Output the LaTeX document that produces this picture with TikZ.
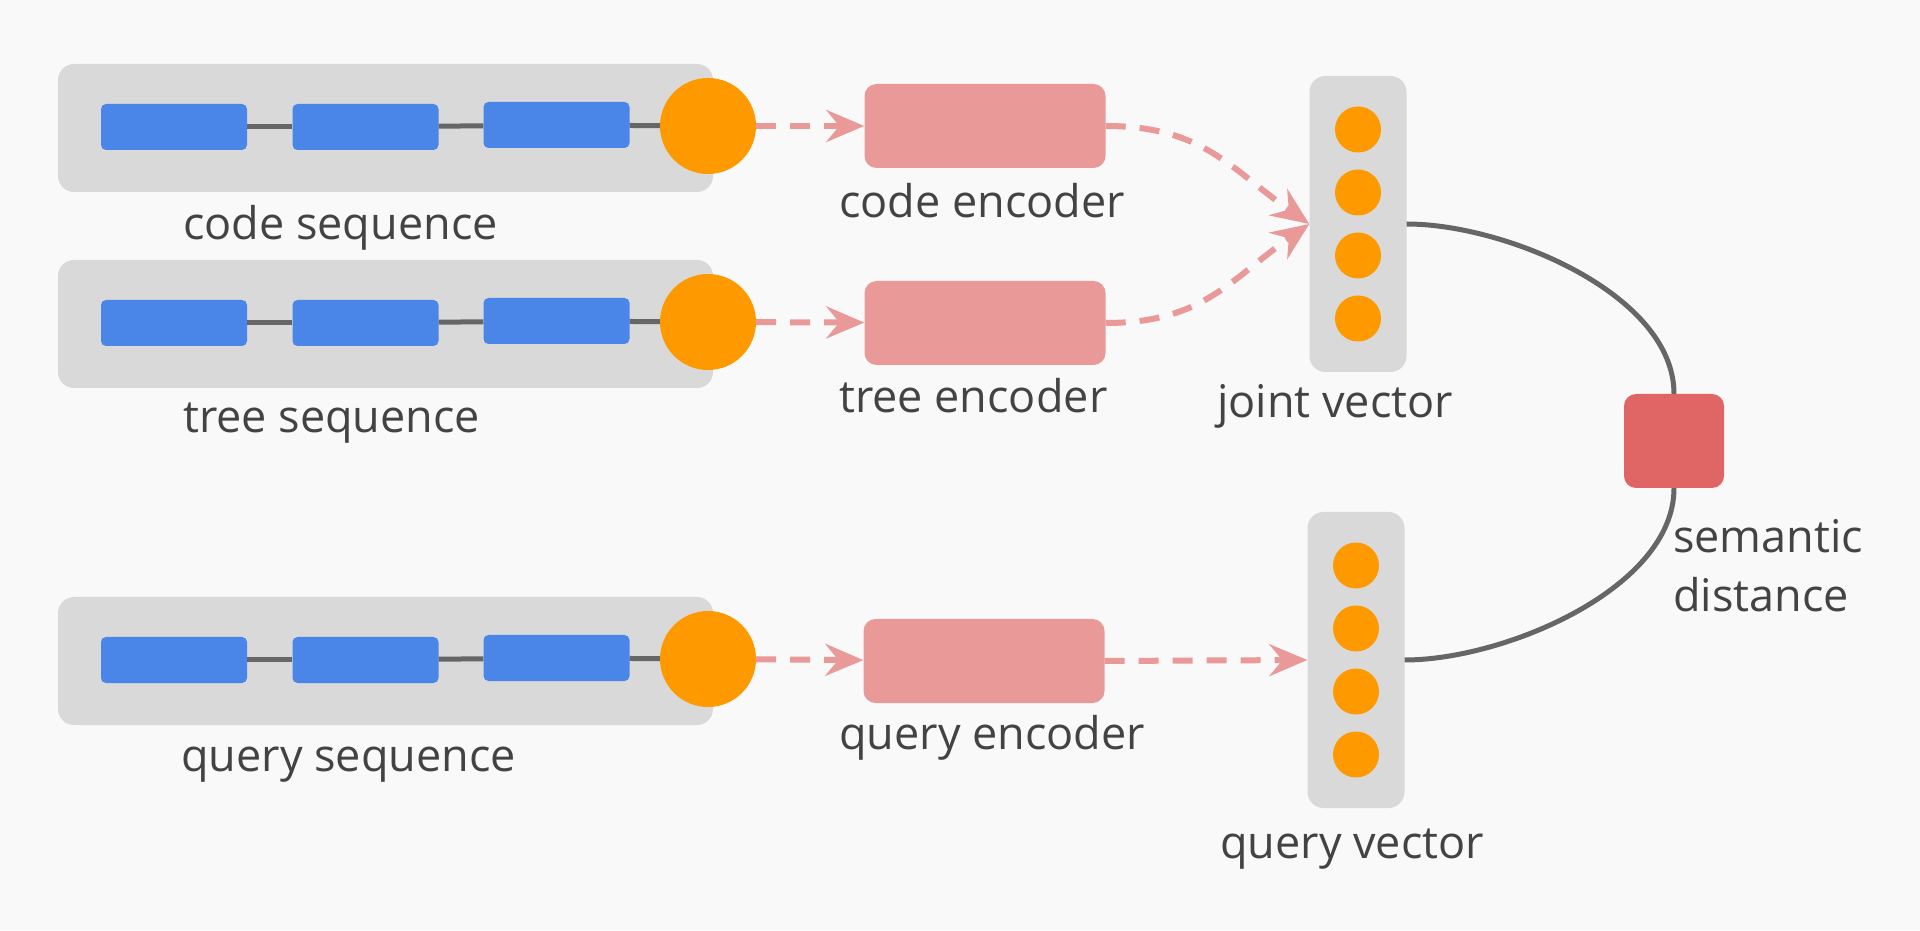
\documentclass[tikz,border=0pt]{standalone}
\usepackage{fontspec}
\setmainfont{Open Sans}
\usepackage{xcolor}
\usetikzlibrary{arrows.meta,positioning,calc}
\definecolor{canvas}{HTML}{F9F9F9}
\definecolor{panel}{HTML}{D9D9D9}
\definecolor{token}{HTML}{4A86E8}
\definecolor{state}{HTML}{FF9900}
\definecolor{encoder}{HTML}{EA9999}
\definecolor{metric}{HTML}{E06666}
\definecolor{wire}{HTML}{666666}
\definecolor{ink}{HTML}{434343}

\begin{document}
\begin{tikzpicture}[x=1pt,y=1pt,
  seqbox/.style={fill=panel, rounded corners=16pt, minimum width=655pt, minimum height=128pt, inner sep=0pt},
  tok/.style={fill=token, rounded corners=5pt, minimum width=146pt, minimum height=46pt, inner sep=0pt},
  cell/.style={circle, fill=state, minimum size=96pt, inner sep=0pt},
  enc/.style={fill=encoder, rounded corners=12pt, minimum width=241pt, minimum height=84pt, inner sep=0pt},
  vecbox/.style={fill=panel, rounded corners=16pt, minimum width=97pt, minimum height=296pt, inner sep=0pt},
  unit/.style={circle, fill=state, minimum size=46pt, inner sep=0pt},
  metricbox/.style={fill=metric, rounded corners=12pt, minimum width=100pt, minimum height=94pt, inner sep=0pt},
  lbl/.style={text=ink, font=\fontsize{45}{59}\selectfont, anchor=base west, inner sep=0pt},
  link/.style={draw=wire, line width=5pt},
  flow/.style={draw=encoder, line width=6pt, dash pattern=on 20pt off 14pt,
    -{Stealth[length=38pt,width=32pt,inset=13pt]}}]
\useasboundingbox (0,0) rectangle (1920,930);
\fill[canvas] (0,0) rectangle (1920,930);

% Code sequence
\node[seqbox] (codebox) at (385.5,802) {};
\node[tok] (code1) at (174,803) {};
\node[tok] (code2) at (365.5,803) {};
\node[tok] (code3) at (556.5,805) {};
\node[cell] (codecell) at (708,804) {};
\draw[link] (code1) -- (code2);
\draw[link] (code2) -- (code3);
\draw[link] (code3) -- (codecell);
\node[lbl] (codelbl) at (183,690) {code sequence};

% Tree sequence
\node[seqbox] (treebox) at (385.5,606) {};
\node[tok] (tree1) at (174,607) {};
\node[tok] (tree2) at (365.5,607) {};
\node[tok] (tree3) at (556.5,609) {};
\node[cell] (treecell) at (708,608) {};
\draw[link] (tree1) -- (tree2);
\draw[link] (tree2) -- (tree3);
\draw[link] (tree3) -- (treecell);
\node[lbl] (treelbl) at (183,497) {tree sequence};

% Query sequence
\node[seqbox] (querybox) at (385.5,269) {};
\node[tok] (query1) at (174,270) {};
\node[tok] (query2) at (365.5,270) {};
\node[tok] (query3) at (556.5,272) {};
\node[cell] (querycell) at (708,271) {};
\draw[link] (query1) -- (query2);
\draw[link] (query2) -- (query3);
\draw[link] (query3) -- (querycell);
\node[lbl] (querylbl) at (181,159) {query sequence};

% Encoders
\node[enc] (codeenc) at (985,804) {};
\node[enc] (treeenc) at (985,607) {};
\node[enc] (queryenc) at (984,269) {};
\node[lbl] (codeenclbl) at (839,712) {code encoder};
\node[lbl] (treeenclbl) at (839,517) {tree encoder};
\node[lbl] (queryenclbl) at (839,181) {query encoder};
\draw[flow] (codecell) -- (codeenc);
\draw[flow] (treecell) -- (treeenc);
\draw[flow] (querycell) -- (queryenc);

% Vectors
\node[vecbox] (jointvec) at (1358,706) {};
\node[vecbox] (queryvec) at (1356,270) {};
\foreach \i/\dy in {1/94.5,2/31.5,3/-31.5,4/-94.5} {
  \node[unit] (joint\i) at ($(jointvec)+(0,\dy)$) {};
  \node[unit] (qv\i) at ($(queryvec)+(0,\dy)$) {};
}
\node[lbl] (jointlbl) at (1217,512) {joint vector};
\node[lbl] (qvlbl) at (1220,72) {query vector};
\draw[flow] (codeenc.east) to[out=0,in=145,looseness=1.1] (jointvec.west);
\draw[flow] (treeenc.east) to[out=0,in=-145,looseness=1.1] (jointvec.west);
\draw[flow] (queryenc.east) -- (queryvec.west);

% Semantic distance
\node[metricbox] (semdist) at (1674,489) {};
\draw[link] (jointvec.east) to[out=0,in=90,looseness=0.8] (semdist.north);
\draw[link] (semdist.south) to[out=-90,in=0,looseness=0.8] (queryvec.east);
\node[lbl, align=left] (semlbl) at (1673,318) {semantic\\distance};
\end{tikzpicture}
\end{document}
